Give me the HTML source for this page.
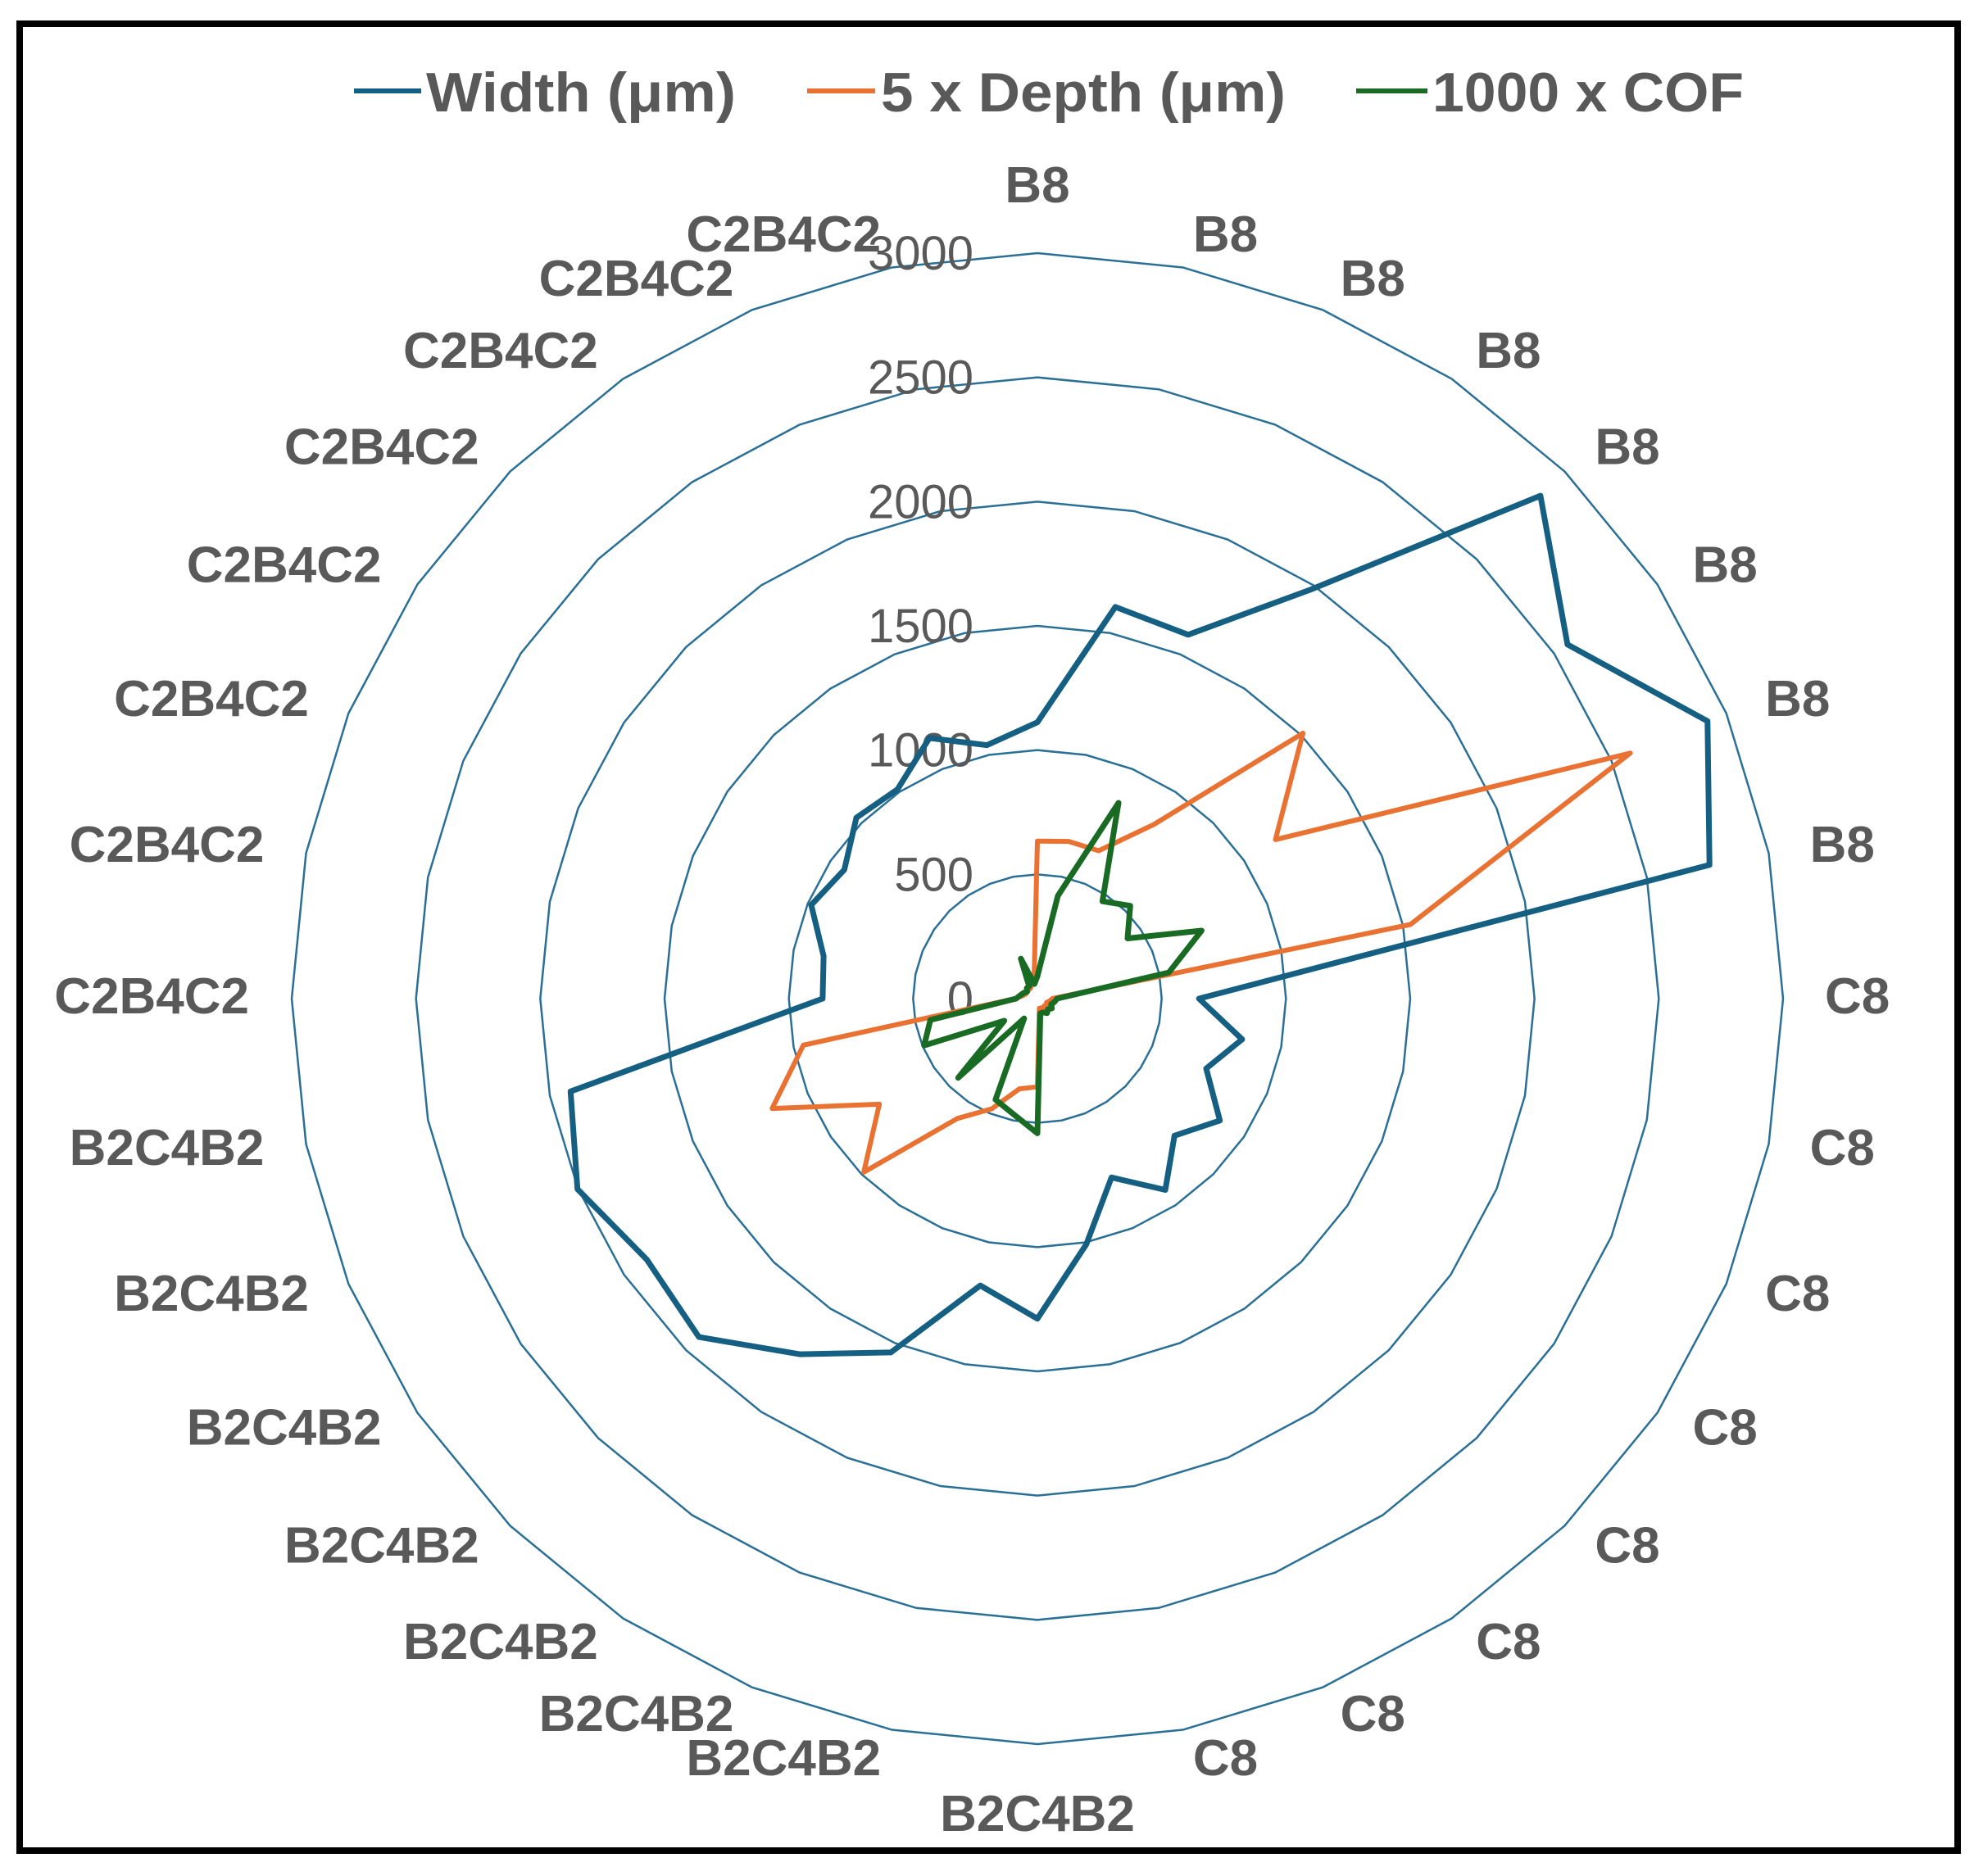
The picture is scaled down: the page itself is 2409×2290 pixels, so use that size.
<!DOCTYPE html>
<html>
<head>
<meta charset="utf-8">
<style>
  html,body{margin:0;padding:0;background:#fff;}
  svg{display:block;}
  text{font-family:"Liberation Sans",sans-serif;fill:#595959;}
</style>
</head>
<body>
<svg id="chart" width="2409" height="2290" viewBox="0 0 2409 2290" xmlns="http://www.w3.org/2000/svg">
  <rect x="0" y="0" width="2409" height="2290" fill="#fff"/>
  <rect x="24" y="29" width="2365" height="2230" fill="none" stroke="#000" stroke-width="8"/>
  <g>
    <g>
      <line x1="432" y1="111" x2="514" y2="111" stroke="#156082" stroke-width="6"/>
      <text x="520" y="136" font-size="68" font-weight="bold" textLength="378" lengthAdjust="spacingAndGlyphs">Width (μm)</text>
    </g>
    <g>
      <line x1="985" y1="111" x2="1068" y2="111" stroke="#E97132" stroke-width="6"/>
      <text x="1075" y="136" font-size="68" font-weight="bold" textLength="494" lengthAdjust="spacingAndGlyphs">5 x Depth (μm)</text>
    </g>
    <g>
      <line x1="1655" y1="111" x2="1742" y2="111" stroke="#196B24" stroke-width="6"/>
      <text x="1748" y="136" font-size="68" font-weight="bold" textLength="380" lengthAdjust="spacingAndGlyphs">1000 x COF</text>
    </g>
  </g>
  <g id="grid"></g>
  <g id="ticks"></g>
  <g id="cats"></g>
  <g id="series"></g>
</svg>
<script>
const categories = ["B8","B8","B8","B8","B8","B8","B8","B8",
  "C8","C8","C8","C8","C8","C8","C8","C8",
  "B2C4B2","B2C4B2","B2C4B2","B2C4B2","B2C4B2","B2C4B2","B2C4B2","B2C4B2",
  "C2B4C2","C2B4C2","C2B4C2","C2B4C2","C2B4C2","C2B4C2","C2B4C2","C2B4C2"];
const widthValues = [1112,1607,1585,1980,2862,2565,2918,2757,650,840,735,883,780,926,779,1008,1288,1177,1541,1721,1926,1890,2003,1915,864,877,985,934,1030,1013,1135,1040];
const depthValues = [634,645,644,843,1511,1152,2582,1530,60,50,40,45,40,45,40,40,355,370,480,580,988,765,1155,960,90,60,50,50,50,50,60,70];
const cofValues = [90,422,853,471,528,436,715,539,79,70,60,70,60,70,60,60,542,477,440,96,451,160,493,439,86,70,60,50,60,60,174,60];
const tickValues = [0,500,1000,1500,2000,2500,3000];
const axisMax = 3000;

const NS = "http://www.w3.org/2000/svg";
const CX = 1266, CY = 1219, R = 910;
const N = categories.length;
function rScale(v){ return v / axisMax * R; }
function ang(i){ return i * 2 * Math.PI / N; }
function pt(i, v){ const a = ang(i), r = rScale(v); return [CX + r*Math.sin(a), CY - r*Math.cos(a)]; }

const grid = document.getElementById('grid');
tickValues.forEach(function(t){
  if (t === 0) return;
  const pts = categories.map(function(c, i){ return pt(i, t).join(','); }).join(' ');
  const p = document.createElementNS(NS, 'polygon');
  p.setAttribute('points', pts);
  p.setAttribute('fill', 'none');
  p.setAttribute('stroke', '#2a6f96');
  p.setAttribute('stroke-width', '2.5');
  
  
  grid.appendChild(p);
});

const ticks = document.getElementById('ticks');
tickValues.forEach(function(t){
  const tx = document.createElementNS(NS, 'text');
  tx.setAttribute('x', CX - 78);
  tx.setAttribute('y', CY - rScale(t) + 20);
  tx.setAttribute('text-anchor', 'end');
  tx.setAttribute('font-size', '58');
  tx.textContent = String(t);
  
  
  ticks.appendChild(tx);
});

const cats = document.getElementById('cats');
categories.forEach(function(c, i){
  const a = ang(i), s = Math.sin(a), co = Math.cos(a);
  let x = CX + 958*s, y = CY - 958*co;
  const tx = document.createElementNS(NS, 'text');
  let anchor = 'middle';
  if (Math.abs(s) < 0.05) { y -= co*36; }
  else if (s > 0) { anchor = 'start'; x += 3; y += -4 + 10*co; }
  else { anchor = 'end'; x -= 4; y += -4 + 10*co; }
  tx.setAttribute('x', x.toFixed(1));
  tx.setAttribute('y', (y + 22).toFixed(1));
  tx.setAttribute('text-anchor', anchor);
  tx.setAttribute('font-size', '62');
  tx.setAttribute('font-weight', 'bold');
  tx.textContent = c;
  
  
  cats.appendChild(tx);
});

const seriesG = document.getElementById('series');
function drawSeries(vals, color, w, name){
  const pts = vals.map(function(v, i){ return pt(i, v).map(function(n){return n.toFixed(1);}).join(','); }).join(' ');
  const p = document.createElementNS(NS, 'polygon');
  p.setAttribute('points', pts);
  p.setAttribute('fill', 'none');
  p.setAttribute('stroke', color);
  p.setAttribute('stroke-width', w);
  p.setAttribute('stroke-linejoin', 'round');
  
  
  seriesG.appendChild(p);
}
drawSeries(widthValues, '#156082', 7, 'series-width');
drawSeries(depthValues, '#E97132', 6, 'series-depth');
drawSeries(cofValues, '#196B24', 7, 'series-cof');
</script>
</body>
</html>
